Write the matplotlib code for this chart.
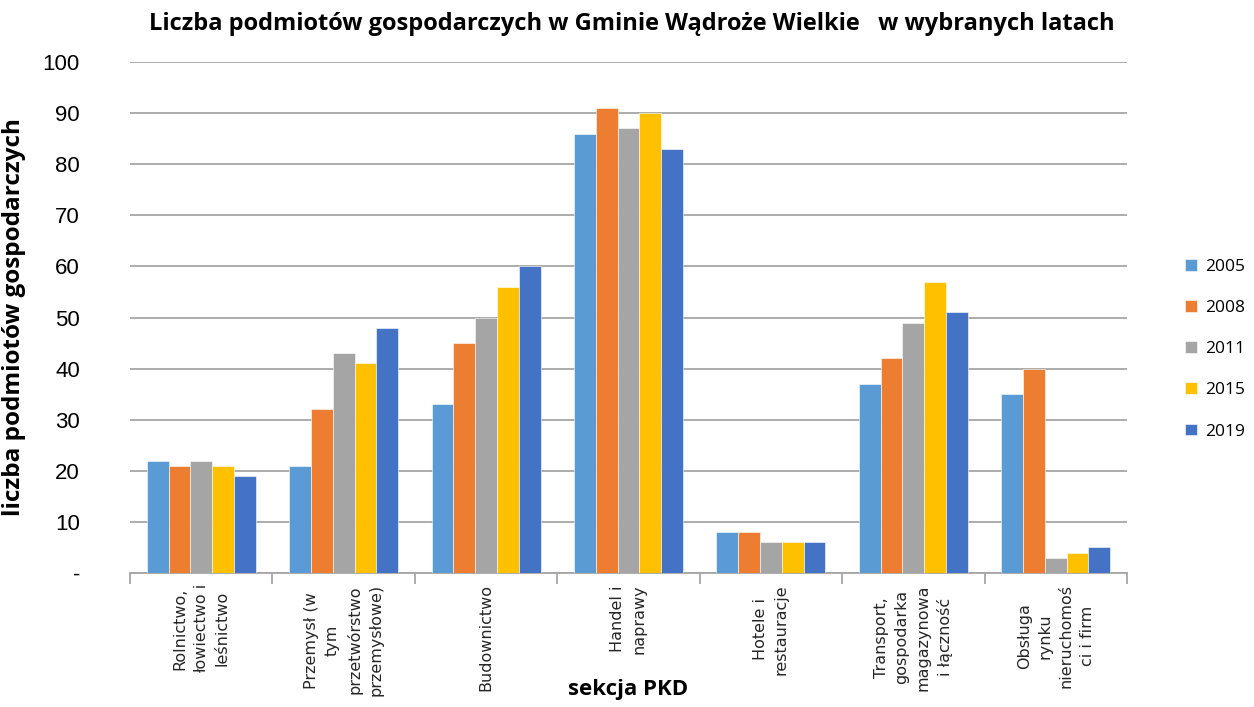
import numpy as np
import matplotlib.pyplot as plt

# Data
categories = ["Rolnictwo,\nłowiectwo i\nleśnictwo",
              "Przemysł (w\ntym\nprzetwórstwo\nprzemysłowe)",
              "Budownictwo",
              "Handel i\nnaprawy",
              "Hotele i\nrestauracje",
              "Transport,\ngospodarka\nmagazynowa\ni łączność",
              "Obsługa\nrynku\nnieruchomoś\nci i firm"]
years = ["2005", "2008", "2011", "2015", "2019"]
v2005 = [22, 21, 33, 86, 8, 37, 35]
v2008 = [21, 32, 45, 91, 8, 42, 40]
v2011 = [22, 43, 50, 87, 6, 49, 3]
v2015 = [21, 41, 56, 90, 6, 57, 4]
v2019 = [19, 48, 60, 83, 6, 51, 5]
series = [v2005, v2008, v2011, v2015, v2019]
colors = ["#5B9BD5", "#ED7D31", "#A5A5A5", "#FFC000", "#4472C4"]

plt.rcParams['font.family'] = ['Open Sans', 'DejaVu Sans']

fig = plt.figure(figsize=(12.54, 7.07), dpi=100)
ax = fig.add_axes([130/1254, 1 - 573/707, (1127-130)/1254, (573-62)/707])

x = np.arange(len(categories))
w = 0.153
for i, (vals, c, yr) in enumerate(zip(series, colors, years)):
    ax.bar(x + (i - 2) * w, vals, w, color=c, label=yr, zorder=3,
           edgecolor="white", linewidth=0.4)

ax.set_xlim(-0.5, len(categories) - 0.5)
ax.set_ylim(0, 100)
ax.tick_params(axis="y", length=0, pad=36)
ax.set_yticks(range(0, 101, 10))
ax.set_yticklabels(["-"] + [str(v) for v in range(10, 101, 10)], fontsize=16,
                   family="Liberation Sans")
ax.yaxis.grid(True, color="#A6A6A6", linewidth=1.3, zorder=0)
ax.set_axisbelow(True)

# category ticks at boundaries, labels centered under groups
ax.set_xticks(np.arange(-0.5, len(categories), 1.0))
ax.set_xticklabels([])
ax.tick_params(axis="x", direction="out", length=8, color="#A6A6A6", width=1.3)
for i, lab in enumerate(categories):
    ax.annotate(lab, xy=(x[i], 0), xycoords=("data", "axes fraction"),
                xytext=(0, -8), textcoords="offset points",
                rotation=90, ha="center", va="top", multialignment="center",
                fontsize=11.5, family="DejaVu Sans", color="#262626",
                linespacing=1.5)

for s in ["top", "right", "left"]:
    ax.spines[s].set_visible(False)
ax.spines["bottom"].set_color("#A6A6A6")
ax.spines["bottom"].set_linewidth(1.3)

ax.set_ylabel("liczba podmiotów gospodarczych", fontsize=17.5, fontweight="bold",
              labelpad=12)
fig.text(628/1254, 1 - 690/707, "sekcja PKD", fontsize=16, fontweight="bold",
         ha="center", va="center")
fig.text(632/1254, 1 - 24/707,
         "Liczba podmiotów gospodarczych w Gminie Wądroże Wielkie   w wybranych latach",
         fontsize=17, fontweight="bold", ha="center", va="center")

leg = ax.legend(loc="center left", bbox_to_anchor=(1.043, 0.438), frameon=False,
                fontsize=12.5, handlelength=0.65, handleheight=0.65,
                labelspacing=1.45, handletextpad=0.5)

fig.savefig("out.png", dpi=100)
